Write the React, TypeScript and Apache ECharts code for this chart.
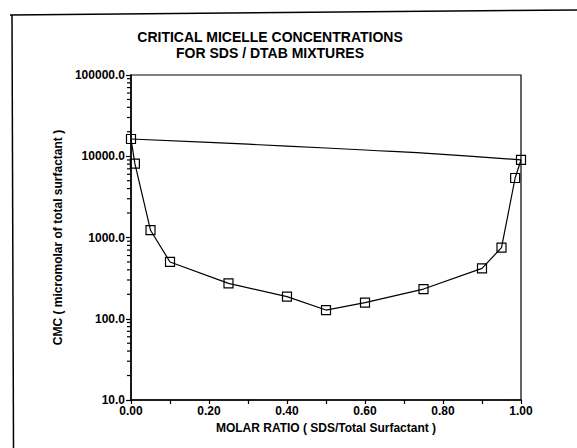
import React, { useEffect, useRef } from "react";
import * as echarts from "echarts";

const titleLines = ["CRITICAL MICELLE CONCENTRATIONS", "FOR SDS / DTAB MIXTURES"];
const xAxisTitle = "MOLAR RATIO ( SDS/Total Surfactant )";
const yAxisTitle = "CMC ( micromolar of total surfactant )";

// measured mixture CMC (micromolar) vs SDS molar ratio
const molarRatio = [0, 0.01, 0.05, 0.1, 0.25, 0.4, 0.5, 0.6, 0.75, 0.9, 0.95, 0.985, 1.0];
const cmcValues = [16300, 8100, 1230, 500, 273, 187, 128, 158, 232, 417, 750, 5400, 9000];

// upper (ideal) line
const idealRatio = [0, 0.2, 0.4, 0.6, 0.8, 1.0];
const idealValues = [16300, 14800, 13340, 11940, 10570, 9000];

// minor tick values on the log axis
const minorTickValues = [
  20, 30, 40, 50, 60, 70, 80, 90,
  200, 300, 400, 500, 600, 700, 800, 900,
  2000, 3000, 4000, 5000, 6000, 7000, 8000, 9000,
  20000, 30000, 40000, 50000, 60000, 70000, 80000, 90000,
];

const FONT = "'Liberation Sans', Arial, Helvetica, sans-serif";

export default function App() {
  const ref = useRef<HTMLDivElement>(null);
  useEffect(() => {
    if (!ref.current) return;
    const chart = echarts.init(ref.current, undefined, { renderer: "svg" });
    chart.setOption({
      animation: false,
      backgroundColor: "#fff",
      textStyle: { fontFamily: FONT },
      graphic: [
        {
          type: "polyline",
          shape: { points: [[10, 15], [577, 10]] },
          style: { stroke: "#000", lineWidth: 1.5, fill: "none" },
        },
        {
          type: "polyline",
          shape: { points: [[12, 15], [13.5, 448]] },
          style: { stroke: "#000", lineWidth: 1.5, fill: "none" },
        },
        {
          type: "text",
          x: 270,
          y: 45,
          style: {
            text: titleLines.join("\n"),
            font: `bold 14px ${FONT}`,
            fill: "#000",
            align: "center",
            verticalAlign: "middle",
            lineHeight: 16,
          },
        },
      ],
      grid: {
        left: 131,
        right: 56,
        top: 75,
        bottom: 48,
        show: true,
        borderColor: "#000",
        borderWidth: 1.2,
        backgroundColor: "transparent",
      },
      xAxis: {
        type: "value",
        min: 0,
        max: 1,
        interval: 0.1,
        name: xAxisTitle,
        nameLocation: "middle",
        nameGap: 18,
        nameTextStyle: { fontFamily: FONT, fontWeight: "bold", fontSize: 12, color: "#000" },
        axisLine: { show: true, lineStyle: { color: "#000", width: 1.5 } },
        axisTick: { show: true, inside: false, length: 4, lineStyle: { color: "#000", width: 1.2 } },
        axisLabel: {
          margin: 5,
          color: "#000",
          fontWeight: "bold",
          fontSize: 12,
          fontFamily: FONT,
          formatter: (v: number) => (Math.round(v * 10) % 2 === 0 ? v.toFixed(2) : ""),
        },
        splitLine: { show: false },
      },
      yAxis: {
        type: "log",
        logBase: 10,
        min: 10,
        max: 100000,
        splitNumber: 4,
        name: yAxisTitle,
        nameLocation: "middle",
        nameRotate: 90,
        nameGap: 64,
        nameTextStyle: { fontFamily: FONT, fontWeight: "bold", fontSize: 12, color: "#000" },
        axisLine: { show: true, lineStyle: { color: "#000", width: 1.5 } },
        axisTick: { show: true, inside: false, length: 5, lineStyle: { color: "#000", width: 1.2 } },
        axisLabel: {
          margin: 6,
          color: "#000",
          fontWeight: "bold",
          fontSize: 12,
          fontFamily: FONT,
          formatter: (v: number) => v.toFixed(1),
        },
        splitLine: { show: false },
      },
      series: [
        {
          type: "line",
          data: idealRatio.map((x, i) => [x, idealValues[i]]),
          showSymbol: false,
          symbol: "none",
          smooth: true,
          lineStyle: { color: "#000", width: 1.2 },
          z: 2,
        },
        {
          type: "line",
          data: molarRatio.map((x, i) => [x, cmcValues[i]]),
          symbol: "rect",
          symbolSize: 9,
          itemStyle: { color: "transparent", borderColor: "#000", borderWidth: 1.2 },
          lineStyle: { color: "#000", width: 1.2 },
          z: 3,
        },
        {
          type: "custom",
          clip: false,
          silent: true,
          data: minorTickValues.map((v) => [0, v]),
          renderItem: (_params: any, api: any) => {
            const p = api.coord([api.value(0), api.value(1)]);
            return {
              type: "line",
              shape: { x1: p[0] - 4, y1: p[1], x2: p[0], y2: p[1] },
              style: { stroke: "#000", lineWidth: 1.2 },
            };
          },
          z: 4,
        },
      ],
    });
    return () => chart.dispose();
  }, []);
  return (
    <div
      ref={ref}
      style={{ position: "fixed", left: 0, top: 0, width: 577, height: 448 }}
    />
  );
}
